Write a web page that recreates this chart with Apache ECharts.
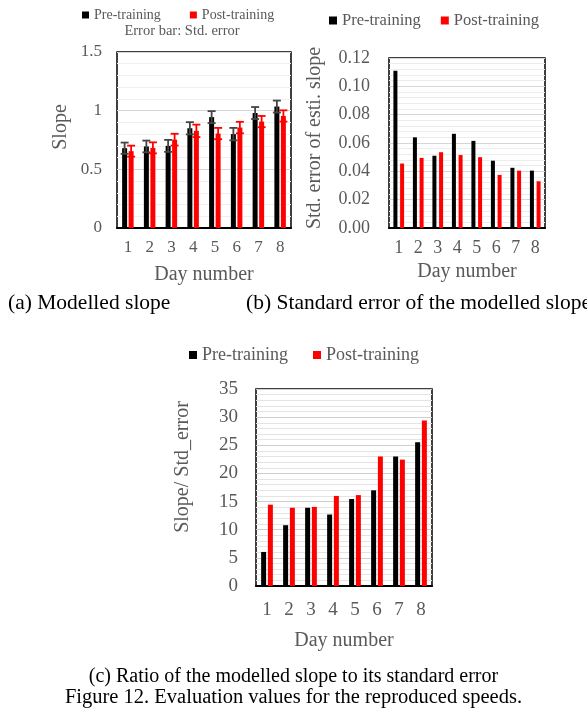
<!DOCTYPE html>
<html>
<head>
<meta charset="utf-8">
<title>Figure 12</title>
<script src="https://cdn.jsdelivr.net/npm/echarts@6/dist/echarts.min.js"></script>
<style>
  html, body { margin: 0; padding: 0; background: #fff; }
  #chart { width: 587px; height: 710px; }
</style>
</head>
<body>
<div id="chart"></div>
<script>
// Day numbers shared by all three panels
const days = ['1', '2', '3', '4', '5', '6', '7', '8'];

// (a) Modelled slope with its error bar half-widths
const slopePre = [0.68, 0.695, 0.70, 0.85, 0.945, 0.80, 0.98, 1.035];
const slopePost = [0.655, 0.683, 0.753, 0.828, 0.805, 0.856, 0.907, 0.955];
const slopeErrPre = [0.048, 0.05, 0.051, 0.052, 0.051, 0.053, 0.051, 0.051];
const slopeErrPost = [0.047, 0.047, 0.05, 0.053, 0.048, 0.049, 0.048, 0.048];

// (b) Standard error of the estimated slope
const sePre = [0.111, 0.064, 0.051, 0.0665, 0.0615, 0.0475, 0.0425, 0.0405];
const sePost = [0.0455, 0.0495, 0.0535, 0.0515, 0.050, 0.0375, 0.0405, 0.033];

// (c) Ratio slope / standard error
const ratioPre = [6.05, 10.8, 13.9, 12.7, 15.45, 17.0, 23.0, 25.55];
const ratioPost = [14.45, 13.9, 14.05, 16.0, 16.15, 23.0, 22.45, 29.4];

// Axis tick settings
const slopeTicks = { min: 0, max: 1.5, interval: 0.5 };
const seTicks = { min: 0, max: 0.12, interval: 0.02 };
const ratioTicks = { min: 0, max: 35, interval: 5 };

const SERIF = "'Liberation Serif', 'Times New Roman', serif";
const GREY = '#595959';
const PRE = '#000000';
const POST = '#ff0000';

// bar geometry for panel (a) used to place error bars over each bar
const A_BAR_W = 5;
const A_GAP = 0.3;
const A_OFFSET = A_BAR_W * (1 + A_GAP) / 2;

function valueAxis(gridIndex, ticks, fontSize, margin, major, minor, fmt) {
  return {
    type: 'value', gridIndex: gridIndex,
    min: ticks.min, max: ticks.max, interval: ticks.interval,
    axisLine: { show: false }, axisTick: { show: false },
    axisLabel: { color: GREY, fontFamily: SERIF, fontSize: fontSize, margin: margin, formatter: fmt },
    splitLine: { show: true, lineStyle: { color: major, width: 1 } },
    minorTick: { show: false, splitNumber: 5 },
    minorSplitLine: { show: true, lineStyle: { color: minor, width: 1 } }
  };
}

function categoryAxis(gridIndex, fontSize, margin, nameGap) {
  return {
    type: 'category', gridIndex: gridIndex, data: days,
    name: 'Day number', nameLocation: 'middle', nameGap: nameGap,
    nameTextStyle: { color: GREY, fontFamily: SERIF, fontSize: 20 },
    axisLine: { show: true, lineStyle: { color: '#000', width: 2 } },
    axisTick: { show: false },
    axisLabel: { color: GREY, fontFamily: SERIF, fontSize: fontSize, margin: margin }
  };
}

function errorBars(values, errs, offset, color) {
  return {
    type: 'custom', name: 'err-' + color, xAxisIndex: 0, yAxisIndex: 0, z: 5,
    data: values.map((v, i) => [i, v - errs[i], v + errs[i]]),
    renderItem: function (params, api) {
      const hi = api.coord([api.value(0), api.value(2)]);
      const lo = api.coord([api.value(0), api.value(1)]);
      const x = hi[0] + offset;
      const half = 4;
      const style = { stroke: color, lineWidth: 1.8 };
      return {
        type: 'group',
        children: [
          { type: 'line', shape: { x1: x, y1: hi[1], x2: x, y2: lo[1] }, style: style },
          { type: 'line', shape: { x1: x - half, y1: hi[1], x2: x + half, y2: hi[1] }, style: style },
          { type: 'line', shape: { x1: x - half, y1: lo[1], x2: x + half, y2: lo[1] }, style: style }
        ]
      };
    }
  };
}

function legend(left, top, fontSize, iconSize, gap) {
  return {
    left: left, top: top, padding: 0, itemGap: gap,
    itemWidth: iconSize, itemHeight: iconSize, icon: 'rect',
    selectedMode: false,
    data: ['Pre-training', 'Post-training'],
    textStyle: { color: GREY, fontFamily: SERIF, fontSize: fontSize }
  };
}

function sideText(text, x, y, size, rotate, color, align) {
  return {
    type: 'text', x: x, y: y, rotation: rotate ? Math.PI / 2 : 0,
    style: {
      text: text, fill: color || GREY, font: size + 'px ' + SERIF,
      align: align || 'center', verticalAlign: 'middle'
    }
  };
}

const chart = echarts.init(document.getElementById('chart'), null, { renderer: 'canvas' });

chart.setOption({
  animation: false,
  backgroundColor: '#fff',
  legend: [
    legend(82, 8, 14, 7, 29),
    legend(329, 12, 16.5, 8, 20),
    legend(189, 346, 18, 8, 25)
  ],
  grid: [
    { left: 117, top: 52, width: 174, height: 176, show: true, borderColor: '#000', borderWidth: 1.5, containLabel: false },
    { left: 389, top: 58, width: 156, height: 170, show: true, borderColor: '#000', borderWidth: 1.5, containLabel: false },
    { left: 256, top: 389, width: 176, height: 197, show: true, borderColor: '#000', borderWidth: 1.5, containLabel: false }
  ],
  xAxis: [
    categoryAxis(0, 17, 11, 37),
    categoryAxis(1, 18, 11, 34),
    categoryAxis(2, 19, 15, 45)
  ],
  yAxis: [
    valueAxis(0, slopeTicks, 17, 15, '#d6d6d6', '#efefef'),
    valueAxis(1, seTicks, 18, 19, '#d6d6d6', '#ececec', v => v.toFixed(2)),
    valueAxis(2, ratioTicks, 19, 18, '#cfcfcf', '#e4e4e4')
  ],
  series: [
    { type: 'bar', name: 'Pre-training', xAxisIndex: 0, yAxisIndex: 0, data: slopePre,
      barWidth: A_BAR_W, barGap: (A_GAP * 100) + '%', itemStyle: { color: PRE } },
    { type: 'bar', name: 'Post-training', xAxisIndex: 0, yAxisIndex: 0, data: slopePost,
      barWidth: A_BAR_W, barGap: (A_GAP * 100) + '%', itemStyle: { color: POST } },
    errorBars(slopePre, slopeErrPre, -A_OFFSET, '#444444'),
    errorBars(slopePost, slopeErrPost, A_OFFSET, POST),

    { type: 'bar', name: 'Pre-training', xAxisIndex: 1, yAxisIndex: 1, data: sePre,
      barWidth: 4, barGap: '67%', itemStyle: { color: PRE } },
    { type: 'bar', name: 'Post-training', xAxisIndex: 1, yAxisIndex: 1, data: sePost,
      barWidth: 4, barGap: '67%', itemStyle: { color: POST } },

    { type: 'bar', name: 'Pre-training', xAxisIndex: 2, yAxisIndex: 2, data: ratioPre,
      barWidth: 5, barGap: '35%', itemStyle: { color: PRE } },
    { type: 'bar', name: 'Post-training', xAxisIndex: 2, yAxisIndex: 2, data: ratioPost,
      barWidth: 5, barGap: '35%', itemStyle: { color: POST } }
  ],
  graphic: [
    sideText('Error bar: Std. error', 182, 31, 14.5),
    sideText('Slope', 61, 127, 20, true),
    sideText('Std. error of esti. slope', 315, 138, 20, true),
    sideText('Slope/ Std_error', 183, 467, 20, true),
    sideText('(a) Modelled slope', 8, 303, 21.5, false, '#000', 'left'),
    sideText('(b) Standard error of the modelled slope', 246, 303, 21.5, false, '#000', 'left'),
    sideText('(c) Ratio of the modelled slope to its standard error', 293.5, 677, 20, false, '#000'),
    sideText('Figure 12. Evaluation values for the reproduced speeds.', 293.5, 698, 20.5, false, '#000')
  ]
});
</script>
</body>
</html>
